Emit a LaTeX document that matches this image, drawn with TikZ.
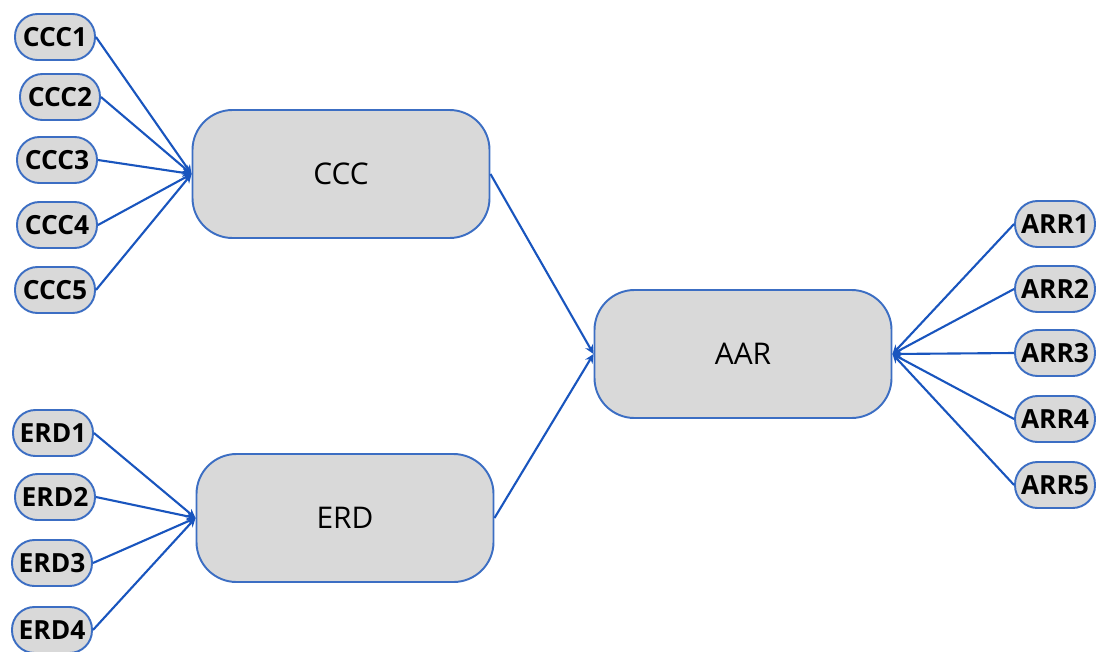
\documentclass[tikz,border=0pt]{standalone}
\usepackage{fontspec}
\setmainfont{Open Sans}
\usepackage{xcolor}
\usetikzlibrary{arrows.meta,positioning}
\definecolor{boxfill}{RGB}{217,217,217}
\definecolor{boxline}{RGB}{60,110,195}
\definecolor{wire}{RGB}{25,85,190}

\begin{document}
\begin{tikzpicture}[
  big/.style={draw=boxline, line width=1.1pt, fill=boxfill, rounded corners=0.8cm, minimum width=5.94cm, minimum height=2.56cm, align=center, font=\fontsize{17}{20}\selectfont},
  small/.style={draw=boxline, line width=1.1pt, fill=boxfill, rounded corners=0.45cm, minimum width=1.6cm, minimum height=0.92cm, inner sep=1pt, font=\fontsize{15}{18}\selectfont\bfseries},
  arrow/.style={-{Stealth[length=1.8mm,width=1.7mm]}, wire, line width=1.2pt}
]
  \useasboundingbox (0,0) rectangle (21.98,-13.02);
  % main boxes
  \node[big] (ccc) at (6.82,-3.48)  {CCC};
  \node[big] (erd) at (6.90,-10.36) {ERD};
  \node[big] (aar) at (14.86,-7.08) {AAR};
  % left inputs
  \node[small] (c1) at (1.10,-0.74)  {CCC1};
  \node[small] (c2) at (1.20,-1.94)  {CCC2};
  \node[small] (c3) at (1.14,-3.20)  {CCC3};
  \node[small] (c4) at (1.14,-4.50)  {CCC4};
  \node[small] (c5) at (1.10,-5.80)  {CCC5};
  \node[small] (e1) at (1.06,-8.66)  {ERD1};
  \node[small] (e2) at (1.10,-9.94)  {ERD2};
  \node[small] (e3) at (1.04,-11.26) {ERD3};
  \node[small] (e4) at (1.04,-12.60) {ERD4};
  % right inputs
  \node[small] (a1) at (21.10,-4.48) {ARR1};
  \node[small] (a2) at (21.10,-5.78) {ARR2};
  \node[small] (a3) at (21.10,-7.06) {ARR3};
  \node[small] (a4) at (21.10,-8.38) {ARR4};
  \node[small] (a5) at (21.10,-9.70) {ARR5};
  \foreach \i in {c1,c2,c3,c4,c5} \draw[arrow] (\i.east) -- (ccc.west);
  \foreach \i in {e1,e2,e3,e4} \draw[arrow] (\i.east) -- (erd.west);
  \foreach \i in {a1,a2,a3,a4,a5} \draw[arrow] (\i.west) -- (aar.east);
  \foreach \i in {ccc,erd} \draw[arrow] (\i.east) -- (aar.west);
\end{tikzpicture}
\end{document}
